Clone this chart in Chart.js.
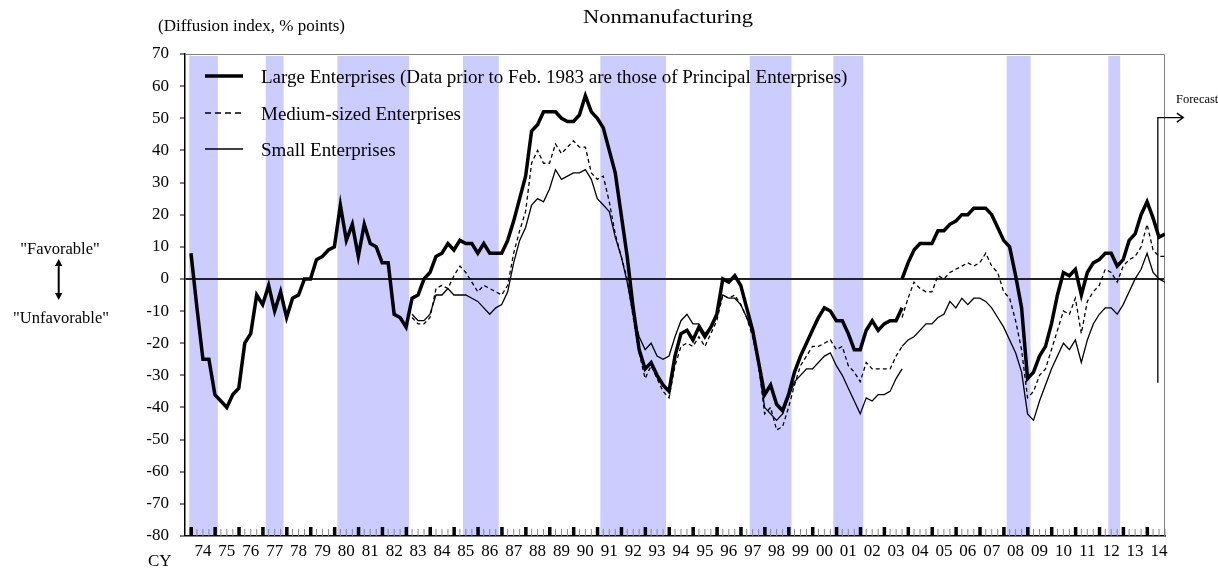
<!DOCTYPE html>
<html>
<head>
<meta charset="utf-8">
<script src="https://cdn.jsdelivr.net/npm/chart.js@4.4.1/dist/chart.umd.min.js"></script>
<style>
  html, body { margin: 0; padding: 0; background: #fff; }
  #wrap { width: 1218px; height: 568px; }
</style>
</head>
<body>
<div id="wrap"><canvas id="diChart" width="1218" height="568"></canvas></div>
<script>
const serif = '"Liberation Serif", "Times New Roman", serif';

// x is a quarter index: 0 = 1974 Q1, 163 = 2014 Q4 (forecast)
// the sample was revised at 2003 Q4 (index 119), so each series breaks there
const breakQ = 119;
const smeStart = 37;
const lastQ = 163;
const forecastQ = 161.8;

const yearLabels = ['74', '75', '76', '77', '78', '79', '80', '81', '82', '83',
  '84', '85', '86', '87', '88', '89', '90', '91', '92', '93',
  '94', '95', '96', '97', '98', '99', '00', '01', '02', '03',
  '04', '05', '06', '07', '08', '09', '10', '11', '12', '13', '14'];

// Large enterprises, 1974 Q1 .. 2003 Q4 (old basis)
const largeOld = [8, -9, -25, -25, -36, -38, -40, -36, -34, -20,
  -17, -5, -8, -2, -10, -4, -12, -6, -5, 0,
  0, 6, 7, 9, 10, 23, 12, 17, 7, 17,
  11, 10, 5, 5, -11, -12, -15, -6, -5, 0,
  2, 7, 8, 11, 9, 12, 11, 11, 8, 11,
  8, 8, 8, 12, 18, 25, 32, 46, 48, 52,
  52, 52, 50, 49, 49, 51, 57, 52, 50, 47,
  40, 33, 20, 7, -9, -22, -28, -26, -30, -33,
  -35, -24, -17, -16, -19, -15, -18, -15, -11, 0,
  -1, 1, -2, -9, -16, -26, -36, -33, -39, -41,
  -36, -29, -24, -20, -16, -12, -9, -10, -13, -13,
  -17, -22, -22, -16, -13, -16, -14, -13, -13, -9];
// 2003 Q4 .. 2014 Q4 (new basis)
const largeNew = [0, 5, 9, 11, 11, 11, 15, 15, 17, 18,
  20, 20, 22, 22, 22, 20, 16, 12, 10, 1,
  -9, -31, -29, -24, -21, -14, -5, 2, 1, 3,
  -5, 2, 5, 6, 8, 8, 4, 6, 12, 14,
  20, 24, 19, 13, 14];

// Medium-sized enterprises, 1983 Q2 .. 2003 Q4 (old basis)
const mediumOld = [-12, -14, -14, -12, -3, -2, -3, 1, 4, 2,
  -1, -4, -2, -3, -4, -5, -2, 8, 15, 21,
  36, 40, 36, 36, 42, 39, 41, 43, 41, 41,
  33, 31, 32, 24, 14, 7, 0, -12, -23, -31,
  -27, -31, -35, -37, -27, -21, -20, -21, -18, -21,
  -17, -13, -5, -6, -5, -8, -12, -18, -27, -42,
  -40, -47, -46, -40, -33, -27, -24, -21, -21, -20,
  -19, -22, -21, -27, -29, -32, -26, -28, -28, -28,
  -28, -24, -21];
const mediumNew = [-12, -6, -1, -3, -4, -4, 1, 0, 2, 3,
  4, 5, 4, 5, 8, 4, 2, -4, -6, -13,
  -22, -37, -35, -30, -28, -22, -16, -10, -11, -6,
  -17, -7, -4, -2, 3, 2, -1, 4, 6, 7,
  10, 17, 9, 7, 7];

// Small enterprises, 1983 Q2 .. 2003 Q4 (old basis)
const smallOld = [-11, -13, -13, -11, -5, -5, -3, -5, -5, -5,
  -6, -7, -9, -11, -9, -8, -4, 5, 12, 16,
  23, 25, 24, 28, 34, 31, 32, 33, 33, 34,
  31, 25, 23, 21, 13, 7, -1, -11, -18, -22,
  -20, -24, -25, -24, -18, -13, -11, -14, -14, -17,
  -15, -11, -5, -6, -6, -8, -12, -17, -27, -40,
  -42, -44, -42, -37, -32, -30, -28, -28, -26, -24,
  -23, -27, -30, -34, -38, -42, -37, -38, -36, -36,
  -35, -31, -28];
const smallNew = [-21, -19, -18, -16, -14, -14, -12, -11, -7, -9,
  -6, -8, -6, -6, -7, -9, -12, -15, -19, -23,
  -29, -42, -44, -38, -33, -28, -24, -20, -22, -19,
  -26, -19, -14, -11, -9, -9, -11, -8, -4, 0,
  3, 8, 2, 0, -1];

// shaded recession phases, in quarter index units
const recessions = [[-0.3, 4.5], [12.5, 15.5], [24.5, 36.5], [45.5, 51.5], [68.5, 79.5],
  [93.5, 100.5], [107.5, 112.5], [136.5, 140.5], [153.5, 155.5]];

function toPoints(vals, start) {
  return vals.map((v, i) => ({ x: start + i, y: v }));
}
function joined(oldVals, oldStart, newVals) {
  return toPoints(oldVals, oldStart).concat([{ x: breakQ, y: null }], toPoints(newVals, breakQ));
}

// draws text; if fitWidth is given the text is stretched sideways to that width
function text(ctx, str, x, y, size, align, fitWidth) {
  ctx.save();
  ctx.font = size + 'px ' + serif;
  ctx.textBaseline = 'alphabetic';
  ctx.fillStyle = '#000';
  let sx = 1;
  if (fitWidth) sx = fitWidth / ctx.measureText(str).width;
  ctx.translate(x, y);
  ctx.scale(sx, 1);
  ctx.textAlign = align || 'left';
  ctx.fillText(str, 0, 0);
  ctx.restore();
}

const bandsPlugin = {
  id: 'bands',
  beforeDraw(chart) {
    const { ctx, chartArea: a, scales: { x } } = chart;
    ctx.save();
    ctx.fillStyle = '#ccccff';
    recessions.forEach(([s, e]) => {
      const x0 = x.getPixelForValue(s);
      const x1 = x.getPixelForValue(e);
      ctx.fillRect(x0, a.top + 2, x1 - x0, a.bottom - a.top - 2);
    });
    ctx.restore();
  }
};

const framePlugin = {
  id: 'frame',
  beforeDatasetsDraw(chart) {
    const { ctx, chartArea: a, scales: { x } } = chart;
    ctx.save();
    for (let q = 0; q <= lastQ; q++) {
      const px = x.getPixelForValue(q);
      if (q % 4 === 0) {
        ctx.fillStyle = '#000';
        ctx.fillRect(px - 1.5, a.bottom - 9, 3.5, 9);
      } else {
        ctx.fillStyle = '#888';
        ctx.fillRect(px - 0.5, a.bottom - 7, 1, 7);
      }
    }
    ctx.strokeStyle = '#808080';
    ctx.lineWidth = 1;
    ctx.beginPath();
    ctx.moveTo(a.left, a.top + 0.5);
    ctx.lineTo(a.right - 0.5, a.top + 0.5);
    ctx.lineTo(a.right - 0.5, a.bottom);
    ctx.stroke();
    ctx.restore();
  }
};

const notesPlugin = {
  id: 'notes',
  afterDraw(chart) {
    const { ctx, scales: { x, y } } = chart;
    ctx.save();
    text(ctx, 'Nonmanufacturing', 668, 23, 19.5, 'center', 170);
    text(ctx, '(Diffusion index, % points)', 158, 31, 16, 'left', 187);
    text(ctx, '"Favorable"', 60, 254, 16.5, 'center');
    text(ctx, '"Unfavorable"', 61, 323, 16.5, 'center');
    text(ctx, 'CY', 148, 566, 17);
    text(ctx, 'Forecast', 1176, 102.5, 12.5);

    // favorable / unfavorable arrow
    ctx.strokeStyle = '#000';
    ctx.fillStyle = '#000';
    ctx.lineWidth = 2;
    ctx.beginPath();
    ctx.moveTo(58.7, 264);
    ctx.lineTo(58.7, 295);
    ctx.stroke();
    ctx.beginPath();
    ctx.moveTo(58.7, 259); ctx.lineTo(55, 266); ctx.lineTo(62.4, 266); ctx.closePath();
    ctx.moveTo(58.7, 300); ctx.lineTo(55, 293); ctx.lineTo(62.4, 293); ctx.closePath();
    ctx.fill();

    // forecast marker
    const fx = x.getPixelForValue(forecastQ);
    const fTop = y.getPixelForValue(50.2);
    const fBot = y.getPixelForValue(-32.3);
    ctx.lineWidth = 1.3;
    ctx.beginPath();
    ctx.moveTo(fx, fBot);
    ctx.lineTo(fx, fTop);
    ctx.lineTo(fx + 25, fTop);
    ctx.moveTo(fx + 19, fTop - 4.5);
    ctx.lineTo(fx + 25.5, fTop);
    ctx.lineTo(fx + 19, fTop + 4.5);
    ctx.stroke();

    // legend
    const rows = [76, 113, 149];
    chart.data.datasets.forEach((ds, i) => {
      ctx.beginPath();
      ctx.lineWidth = ds.borderWidth;
      ctx.setLineDash(ds.borderDash.length ? [6, 4] : []);
      ctx.moveTo(205, rows[i]);
      ctx.lineTo(243, rows[i]);
      ctx.stroke();
      ctx.setLineDash([]);
      text(ctx, ds.label, 261, rows[i] + 6.5, 19);
    });
    ctx.restore();
  }
};

const common = { borderColor: '#000', pointRadius: 0, tension: 0, fill: false, spanGaps: false };

new Chart(document.getElementById('diChart'), {
  type: 'line',
  data: {
    datasets: [
      Object.assign({
        label: 'Large Enterprises (Data prior to Feb. 1983 are those of Principal Enterprises)',
        data: joined(largeOld, 0, largeNew),
        borderWidth: 3.5, borderDash: []
      }, common),
      Object.assign({
        label: 'Medium-sized Enterprises',
        data: joined(mediumOld, smeStart, mediumNew),
        borderWidth: 1.3, borderDash: [4, 3]
      }, common),
      Object.assign({
        label: 'Small Enterprises',
        data: joined(smallOld, smeStart, smallNew),
        borderWidth: 1.3, borderDash: []
      }, common)
    ]
  },
  options: {
    responsive: false,
    animation: false,
    layout: { padding: { top: 54, right: 53, left: 0, bottom: 0 } },
    plugins: {
      legend: { display: false },
      title: { display: false },
      tooltip: { enabled: false }
    },
    scales: {
      x: {
        type: 'linear',
        min: -1,
        max: lastQ,
        afterFit(s) { s.height = 32; },
        afterBuildTicks(s) { s.ticks = yearLabels.map((_, i) => ({ value: 4 * i + 2 })); },
        ticks: {
          autoSkip: false, maxRotation: 0, color: '#000', padding: 5,
          font: { family: serif, size: 17 },
          callback: v => yearLabels[(v - 2) / 4]
        },
        grid: { display: false, drawTicks: false },
        border: { color: '#000', width: 1.5 }
      },
      y: {
        min: -80,
        max: 70,
        afterFit(s) { s.width = 185; },
        ticks: { stepSize: 10, color: '#000', padding: 11, font: { family: serif, size: 17 } },
        grid: {
          color: c => (c.tick && c.tick.value === 0 ? '#222' : 'rgba(0,0,0,0)'),
          lineWidth: c => (c.tick && c.tick.value === 0 ? 2 : 0),
          tickColor: '#000', tickLength: 5, tickWidth: 1
        },
        border: { color: '#000', width: 1.5 }
      }
    }
  },
  plugins: [bandsPlugin, framePlugin, notesPlugin]
});
</script>
</body>
</html>
